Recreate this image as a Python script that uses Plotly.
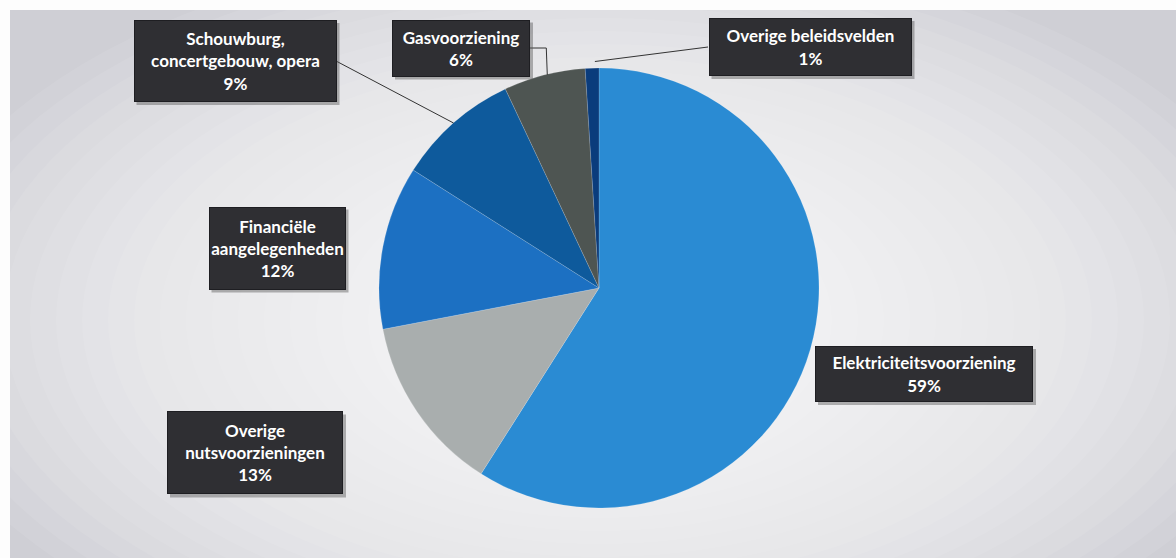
import math
import plotly.graph_objects as go

# slice data, clockwise from 12 o'clock
labels = [
    "Elektriciteitsvoorziening",
    "Overige<br>nutsvoorzieningen",
    "Financiële<br>aangelegenheden",
    "Schouwburg,<br>concertgebouw, opera",
    "Gasvoorziening",
    "Overige beleidsvelden",
]
values = [59, 13, 12, 9, 6, 1]
colors = ["#2A8BD3", "#A9AEAE", "#1C70C2", "#0E5A9C", "#4E5552", "#0A3C7C"]

W, H = 1176, 558
cx, cy, R = 599, 288, 220


def px(x):
    return x / W


def py(y):
    return 1 - y / H


# label boxes: centre x, centre y, width, height (pixels)
boxes = [
    (924, 374, 218, 56),
    (255, 453, 176, 83),
    (277, 248, 137, 83),
    (235, 61, 203, 82),
    (461, 48, 138, 57),
    (810, 47, 203, 58),
]

fig = go.Figure(go.Pie(
    labels=labels,
    values=values,
    sort=False,
    direction="clockwise",
    rotation=0,
    marker=dict(colors=colors, line=dict(color="rgba(255,255,255,0.25)", width=0.6)),
    textinfo="none",
    hoverinfo="label+percent",
    showlegend=False,
    domain=dict(x=[px(cx - R), px(cx + R)], y=[py(cy + R), py(cy - R)]),
))

shapes = []
# background panel with soft vignette
shapes.append(dict(type="rect", xref="paper", yref="paper", layer="below",
                   x0=px(10), x1=px(1176), y0=py(558), y1=py(10),
                   fillcolor="#CFCFD5", line=dict(width=0)))
for i in range(20):
    rx = 700 - i * 26
    ry = 380 - i * 13
    shapes.append(dict(type="circle", xref="paper", yref="paper", layer="below",
                       x0=px(600 - rx), x1=px(600 + rx), y0=py(320 + ry), y1=py(320 - ry),
                       fillcolor="rgba(255,255,255,0.08)", line=dict(width=0)))


def edge_point(idx, r):
    start = sum(values[:idx])
    mid = (start + values[idx] / 2) / sum(values) * 2 * math.pi
    return cx + r * math.sin(mid), cy - r * math.cos(mid)


# leader lines
sx, sy = edge_point(3, R)
gx, gy = edge_point(4, R)
bx, by = edge_point(5, R * 1.03)
leaders = [
    [(336, 61), (sx, sy)],
    [(530, 48), (gx + 2, 48), (gx + 3, gy)],
    [(708, 47), (bx + 3, by)],
]
for pts in leaders:
    path = "M " + " L ".join(f"{px(x)},{py(y)}" for x, y in pts)
    shapes.append(dict(type="path", xref="paper", yref="paper", path=path,
                       line=dict(color="#333333", width=1)))

annotations = []
for lab, val, (bxc, byc, bw, bh) in zip(labels, values, boxes):
    # drop shadow
    shapes.append(dict(type="rect", xref="paper", yref="paper", layer="above",
                       x0=px(bxc - bw / 2 + 3), x1=px(bxc + bw / 2 + 3),
                       y0=py(byc + bh / 2 + 3), y1=py(byc - bh / 2 + 3),
                       fillcolor="rgba(90,90,90,0.45)", line=dict(width=0)))
    annotations.append(dict(
        x=px(bxc), y=py(byc), xref="paper", yref="paper",
        xanchor="center", yanchor="middle", showarrow=False,
        text=f"<b>{lab}<br>{val}%</b>", align="center",
        width=bw - 2, height=bh - 2, borderpad=0, borderwidth=1,
        bgcolor="#2F2F33", bordercolor="#1E1E22",
        font=dict(family="Lato", size=17, color="#FFFFFF"),
    ))

fig.update_layout(
    width=W, height=H,
    margin=dict(l=0, r=0, t=0, b=0),
    paper_bgcolor="#FDFDFD",
    plot_bgcolor="#FDFDFD",
    shapes=shapes,
    annotations=annotations,
)
fig.write_html("out.html", config={"displayModeBar": False},
               post_script="document.body.style.margin='0';")
